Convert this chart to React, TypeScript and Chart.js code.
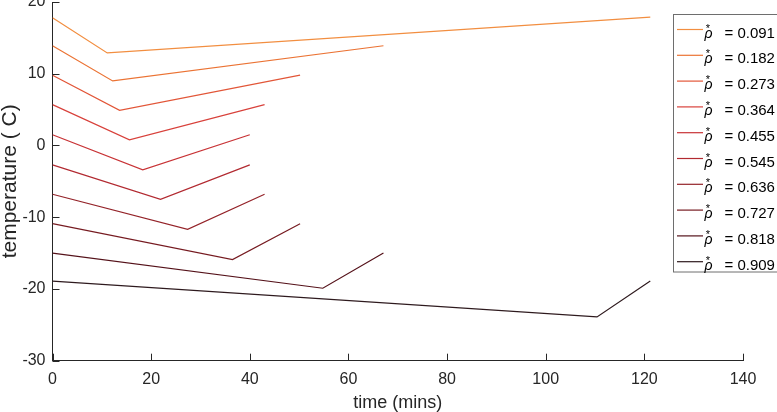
import React, { useEffect, useRef } from "react";
import { Chart, registerables } from "chart.js";

Chart.register(...registerables);

// ---- data ----
const rhoLabels = ["0.091", "0.182", "0.273", "0.364", "0.455", "0.545", "0.636", "0.727", "0.818", "0.909"];
const startTemps = [17.8, 13.9, 9.8, 5.7, 1.5, -2.7, -6.8, -10.9, -15.0, -18.9];
const minTimes = [11.1, 12.2, 13.6, 15.6, 18.3, 21.9, 27.4, 36.5, 54.8, 110.4];
const minTemps = [12.9, 9.0, 4.9, 0.8, -3.4, -7.5, -11.7, -15.9, -19.9, -23.9];
const endTimes = [121.2, 67.1, 50.2, 43.0, 40.0, 40.0, 43.0, 50.2, 67.1, 121.2];
const endTemps = [17.9, 13.9, 9.8, 5.7, 1.5, -2.7, -6.8, -10.9, -15.0, -18.9];
const xTicks = [0, 20, 40, 60, 80, 100, 120, 140];
const yTicks = [-30, -20, -10, 0, 10, 20];
const seriesColors = [
  "#F28E40",
  "#EB7334",
  "#E25638",
  "#D8413B",
  "#C83336",
  "#B22A31",
  "#942329",
  "#771C22",
  "#55121A",
  "#2E1A1E",
];

const AXIS = "#262626";
const FONT = "'Liberation Sans', Arial, Helvetica, sans-serif";

const innerTicks = {
  id: "innerTicks",
  afterDraw(chart: any) {
    const { ctx, chartArea, scales } = chart;
    ctx.save();
    ctx.strokeStyle = AXIS;
    ctx.lineWidth = 1;
    for (const v of xTicks) {
      const px = Math.round(scales.x.getPixelForValue(v)) + 0.5;
      ctx.beginPath();
      ctx.moveTo(px, chartArea.bottom);
      ctx.lineTo(px, chartArea.bottom - 7);
      ctx.stroke();
    }
    for (const v of yTicks) {
      const py = Math.round(scales.y.getPixelForValue(v)) + 0.5;
      ctx.beginPath();
      ctx.moveTo(chartArea.left, py);
      ctx.lineTo(chartArea.left + 7, py);
      ctx.stroke();
    }
    ctx.restore();
  },
};

const boxLegend = {
  id: "boxLegend",
  afterDraw(chart: any) {
    const { ctx } = chart;
    const bx = 673.5;
    const by = 14.5;
    const bw = 120;
    const bh = 257.5;
    ctx.save();
    ctx.fillStyle = "#ffffff";
    ctx.fillRect(bx, by, bw, bh);
    ctx.strokeStyle = "#6e6e6e";
    ctx.lineWidth = 1;
    ctx.strokeRect(bx, by, bw, bh);
    chart.data.datasets.forEach((ds: any, i: number) => {
      const ly = 29.5 + i * 25.8;
      ctx.strokeStyle = ds.borderColor;
      ctx.lineWidth = 1.2;
      ctx.beginPath();
      ctx.moveTo(677, ly);
      ctx.lineTo(703, ly);
      ctx.stroke();
      ctx.fillStyle = "#000000";
      ctx.textBaseline = "alphabetic";
      ctx.textAlign = "left";
      ctx.font = "italic 14px " + FONT;
      ctx.fillText("\u03C1", 704.5, ly + 8);
      ctx.font = "11px " + FONT;
      ctx.fillText("*", 705.8, ly + 2);
      ctx.font = "15px " + FONT;
      ctx.fillText("= " + ds.rho, 724.5, ly + 8);
    });
    ctx.restore();
  },
};

export default function App() {
  const canvasRef = useRef<HTMLCanvasElement | null>(null);

  useEffect(() => {
    const canvas = canvasRef.current;
    if (!canvas) return;
    const datasets = rhoLabels.map((rho, i) => ({
      label: "\u03C1* = " + rho,
      rho,
      data: [
        { x: 0, y: startTemps[i] },
        { x: minTimes[i], y: minTemps[i] },
        { x: endTimes[i], y: endTemps[i] },
      ],
      borderColor: seriesColors[i],
      backgroundColor: seriesColors[i],
      borderWidth: 1.2,
      showLine: true,
      pointRadius: 0,
      tension: 0,
    }));

    const chart = new Chart(canvas, {
      type: "scatter",
      data: { datasets: datasets as any },
      options: {
        animation: false,
        responsive: false,
        devicePixelRatio: 1,
        layout: { padding: { top: 2, right: 34, left: 0, bottom: 0 } },
        plugins: {
          legend: { display: false },
          tooltip: { enabled: false },
        },
        scales: {
          x: {
            type: "linear",
            min: 0,
            max: 140,
            afterBuildTicks: (scale: any) => {
              scale.ticks = xTicks.map((v) => ({ value: v }));
            },
            afterFit: (scale: any) => {
              scale.height = 51.3;
              scale.paddingLeft = 0;
              scale.paddingRight = 0;
            },
            grid: { display: false, drawTicks: false },
            border: { display: true, color: AXIS, width: 1 },
            ticks: {
              color: AXIS,
              font: { family: FONT, size: 16 },
              padding: 9,
              maxRotation: 0,
              autoSkip: false,
            },
            title: {
              display: true,
              text: "time (mins)",
              color: AXIS,
              font: { family: FONT, size: 18, lineHeight: 1.0 },
              padding: { top: 0, bottom: 0 },
            },
          },
          y: {
            type: "linear",
            min: -30,
            max: 20,
            afterBuildTicks: (scale: any) => {
              scale.ticks = yTicks.map((v) => ({ value: v }));
            },
            afterFit: (scale: any) => {
              scale.width = 52.5;
              scale.paddingTop = 0;
              scale.paddingBottom = 0;
            },
            grid: { display: false, drawTicks: false },
            border: { display: true, color: AXIS, width: 1 },
            ticks: {
              color: AXIS,
              font: { family: FONT, size: 16 },
              padding: 7,
              autoSkip: false,
            },
            title: {
              display: true,
              text: "temperature ( C)",
              color: AXIS,
              font: { family: FONT, size: 21, lineHeight: 1.0 },
              padding: { top: 0, bottom: 0 },
            },
          },
        },
      },
      plugins: [innerTicks, boxLegend],
    });

    return () => chart.destroy();
  }, []);

  return (
    <div style={{ position: "absolute", left: 0, top: 0, width: 777, height: 412, background: "#ffffff" }}>
      <canvas ref={canvasRef} width={777} height={412} style={{ display: "block" }} />
    </div>
  );
}
